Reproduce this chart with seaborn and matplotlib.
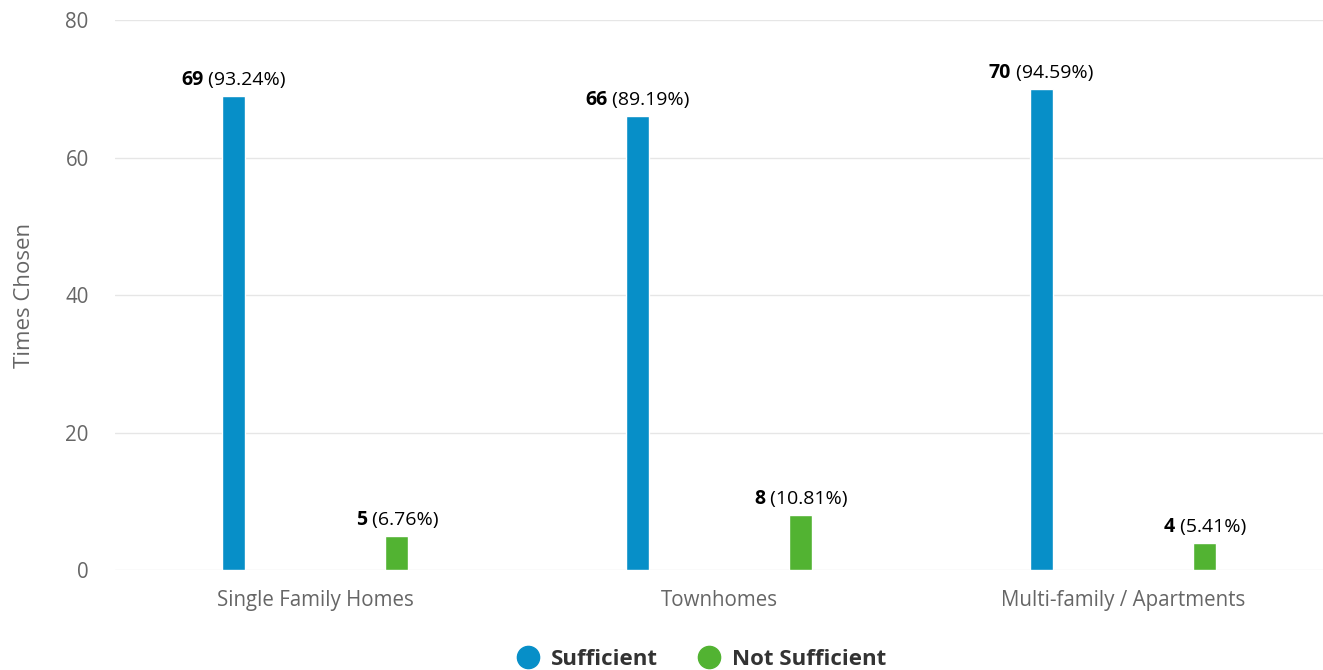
import pandas as pd
import seaborn as sns
import matplotlib.pyplot as plt
from matplotlib.lines import Line2D

categories = ['Single Family Homes', 'Townhomes', 'Multi-family / Apartments']
series = ['Sufficient', 'Not Sufficient']
sufficient = [69, 66, 70]
not_sufficient = [5, 8, 4]
sufficient_pct = ['93.24%', '89.19%', '94.59%']
not_sufficient_pct = ['6.76%', '10.81%', '5.41%']
colors = ['#078fc8', '#52b332']

sns.set_style('white')
plt.rcParams['font.family'] = ['Open Sans', 'DejaVu Sans']

data = pd.DataFrame({
    'category': categories * 2,
    'status': [series[0]] * 3 + [series[1]] * 3,
    'count': sufficient + not_sufficient,
})

fig = plt.figure(figsize=(13.23, 6.7), dpi=100)
ax = fig.add_axes([0.087, 0.149, 0.913, 0.821])

sns.barplot(data=data, x='category', y='count', hue='status',
            palette=colors, width=0.81, gap=0.86, saturation=1,
            legend=False, ax=ax)

ax.set_ylim(0, 80)
ax.set_xlim(-0.495, 2.495)
ax.set_yticks([0, 20, 40, 60, 80])
ax.yaxis.grid(True, color='#e6e6e6', linewidth=1)
ax.set_axisbelow(True)
for s in ax.spines.values():
    s.set_visible(False)
ax.tick_params(axis='both', colors='#666666', labelsize=14.8, length=0)
ax.tick_params(axis='x', pad=14)
ax.tick_params(axis='y', pad=19)
ax.set_xlabel('')
ax.set_ylabel('Times Chosen', color='#666666', fontsize=16, labelpad=22)

# value labels: bold count + normal percentage, centred above each bar
fig.canvas.draw()
renderer = fig.canvas.get_renderer()
labels = [(sufficient, sufficient_pct), (not_sufficient, not_sufficient_pct)]
for cont, (vals, pcts) in zip(ax.containers, labels):
    for bar, v, p in zip(cont, vals, pcts):
        xc = bar.get_x() + bar.get_width() / 2
        top = bar.get_height()
        t1 = ax.annotate(str(v), (xc, top), xytext=(0, 8),
                         textcoords='offset points', ha='left', va='baseline',
                         fontsize=14, fontweight='bold', color='black')
        t2 = ax.annotate(' (' + p + ')', (xc, top), xytext=(0, 8),
                         textcoords='offset points', ha='left', va='baseline',
                         fontsize=14, color='black')
        w1 = t1.get_window_extent(renderer).width
        w2 = t2.get_window_extent(renderer).width
        total = (w1 + w2) * 72 / fig.dpi
        t1.set_position((-total / 2, 8))
        t2.set_position((-total / 2 + w1 * 72 / fig.dpi, 8))

handles = [Line2D([], [], marker='o', linestyle='', markersize=16,
                  markerfacecolor=c, markeredgecolor=c) for c in colors]
leg = fig.legend(handles, series, loc='lower center',
                 bbox_to_anchor=(0.526, -0.03), ncol=2, frameon=False,
                 handletextpad=0.05, columnspacing=1.27,
                 prop={'size': 16, 'weight': 'bold'})
for t in leg.get_texts():
    t.set_color('#333333')

plt.savefig('out.png', dpi=100)
